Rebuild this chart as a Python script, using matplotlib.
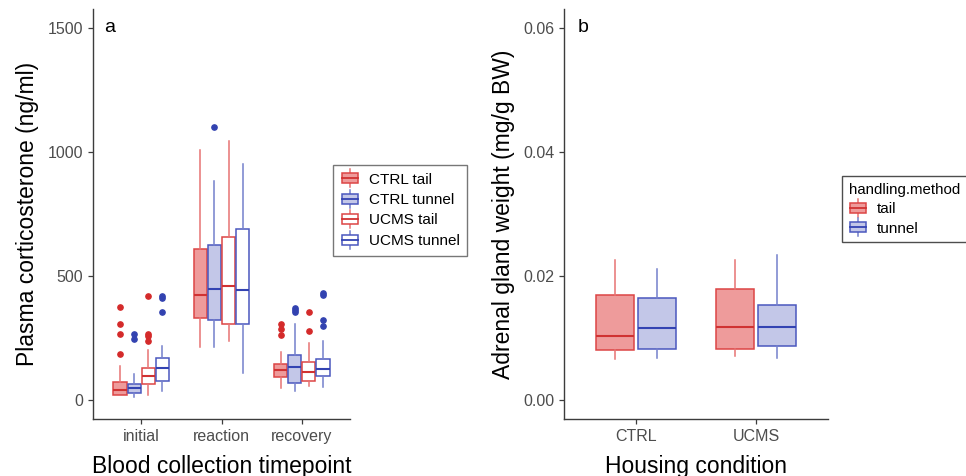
import matplotlib
matplotlib.use("Agg")
import matplotlib.pyplot as plt
from matplotlib.legend_handler import HandlerBase
from matplotlib.patches import Rectangle
from matplotlib.lines import Line2D

plt.rcParams["font.family"] = ["Liberation Sans", "DejaVu Sans"]

# ---- panel a: plasma corticosterone (ng/ml) ----
timepoints = ["initial", "reaction", "recovery"]
cort_groups = ["CTRL tail", "CTRL tunnel", "UCMS tail", "UCMS tunnel"]
# rows: group, columns: timepoint
cort_med = [[41, 426, 121], [50, 450, 133], [97, 461, 113], [130, 446, 126]]
cort_q1 = [[23, 332, 93], [31, 325, 70], [67, 309, 79], [79, 309, 97]]
cort_q3 = [[75, 609, 148], [66, 626, 181], [132, 658, 154], [172, 690, 168]]
cort_lo = [[20, 215, 51], [15, 215, 38], [21, 239, 58], [38, 112, 55]]
cort_hi = [[138, 1009, 195], [105, 882, 306], [202, 1043, 229], [217, 952, 237]]
cort_out = [
    [[376, 309, 267, 188], [], [309, 286, 265]],
    [[267, 247], [1100], [371, 363, 356]],
    [[421, 267, 259, 237], [], [354, 281]],
    [[418, 410, 355], [], [431, 423, 323, 301]],
]

# ---- panel b: adrenal gland weight (mg/g BW) ----
housing = ["CTRL", "UCMS"]
methods = ["tail", "tunnel"]
adr_med = [[0.0104, 0.0118], [0.0117, 0.0118]]
adr_q1 = [[0.0081, 0.0083], [0.0083, 0.0088]]
adr_q3 = [[0.0169, 0.0180], [0.0165, 0.0154]]
adr_lo = [[0.0067, 0.0071], [0.0069, 0.0069]]
adr_hi = [[0.0226, 0.0226], [0.0212, 0.0234]]

RED = dict(edge="#DC4545", med="#D03232", whisk="#E77373", fill="#EE9B9B", dot="#D42A2A")
BLUE = dict(edge="#4A57BE", med="#3343B2", whisk="#7480CC", fill="#C3C7E8", dot="#3242B0")
group_style = [(RED, True), (BLUE, True), (RED, False), (BLUE, False)]

TICK_C = "#4D4D4D"
AX_C = "#3C3C3C"


def stats_list(med, q1, q3, lo, hi, out):
    return [dict(med=m, q1=a, q3=b, whislo=l, whishi=h, fliers=f)
            for m, a, b, l, h, f in zip(med, q1, q3, lo, hi, out)]


def draw(ax, stats, positions, width, style, filled):
    bp = ax.bxp(stats, positions=positions, widths=width, patch_artist=True,
                showcaps=False, manage_ticks=False,
                flierprops=dict(marker="o", markersize=3.8,
                                markerfacecolor=style["dot"],
                                markeredgecolor=style["dot"]),
                medianprops=dict(color=style["med"], linewidth=1.5),
                whiskerprops=dict(color=style["whisk"], linewidth=1.1),
                boxprops=dict(edgecolor=style["edge"], linewidth=1.1,
                              facecolor=style["fill"] if filled else "white"))
    return bp


def style_axes(ax):
    for s in ("top", "right"):
        ax.spines[s].set_visible(False)
    for s in ("left", "bottom"):
        ax.spines[s].set_color(AX_C)
        ax.spines[s].set_linewidth(1.0)
    ax.tick_params(colors=AX_C, labelcolor=TICK_C, labelsize=11.5, length=3.5,
                   width=0.9)


class BoxKey:
    def __init__(self, style, filled):
        self.style = style
        self.filled = filled


class BoxKeyHandler(HandlerBase):
    def create_artists(self, legend, h, xd, yd, width, height, fontsize, trans):
        x0, y0 = -xd, -yd
        cx = x0 + width / 2
        s = h.style
        whisk = Line2D([cx, cx], [y0 - 0.3 * height, y0 + 1.3 * height],
                       color=s["whisk"], linewidth=1.1, transform=trans)
        box = Rectangle((x0 + 0.08 * width, y0 + 0.05 * height), 0.84 * width,
                        0.9 * height, facecolor=s["fill"] if h.filled else "white",
                        edgecolor=s["edge"], linewidth=1.1, transform=trans)
        med = Line2D([x0 + 0.08 * width, x0 + 0.92 * width],
                     [y0 + 0.5 * height] * 2, color=s["med"], linewidth=1.3,
                     transform=trans)
        return [whisk, box, med]


fig = plt.figure(figsize=(9.66, 4.76), dpi=100)
axA = fig.add_axes([93 / 966, 57 / 476, 257 / 966, 410 / 476])
axB = fig.add_axes([564 / 966, 57 / 476, 264 / 966, 410 / 476])

# panel a
offsets_a = [-0.2625, -0.0875, 0.0875, 0.2625]
for g, (style, filled) in enumerate(group_style):
    pos = [i + 1 + offsets_a[g] for i in range(len(timepoints))]
    st = stats_list(cort_med[g], cort_q1[g], cort_q3[g], cort_lo[g],
                    cort_hi[g], cort_out[g])
    draw(axA, st, pos, 0.165, style, filled)
axA.set_xlim(0.4, 3.6)
axA.set_ylim(-75, 1575)
axA.set_xticks([1, 2, 3], timepoints)
axA.set_yticks([0, 500, 1000, 1500])
style_axes(axA)
axA.set_xlabel("Blood collection timepoint", fontsize=16.5, labelpad=8)
axA.set_ylabel("Plasma corticosterone (ng/ml)", fontsize=16.5, labelpad=6)
axA.text(0.045, 0.975, "a", transform=axA.transAxes, fontsize=14,
         va="top", ha="left")

handles_a = [BoxKey(s, f) for s, f in group_style]
legA = fig.legend(handles_a, cort_groups, loc="upper left",
                  bbox_to_anchor=(333 / 966, 1 - 165 / 476),
                  handler_map={BoxKey: BoxKeyHandler()}, fontsize=11,
                  frameon=True, fancybox=False, edgecolor="#555555",
                  handlelength=1.25, handleheight=0.75, handletextpad=0.6,
                  labelspacing=0.42, borderpad=0.5, borderaxespad=0)
legA.get_frame().set_linewidth(1.0)

# panel b
offsets_b = [-0.175, 0.175]
styles_b = [RED, BLUE]
for m in range(len(methods)):
    pos = [i + 1 + offsets_b[m] for i in range(len(housing))]
    st = stats_list(adr_med[m], adr_q1[m], adr_q3[m], adr_lo[m], adr_hi[m],
                    [[] for _ in housing])
    draw(axB, st, pos, 0.32, styles_b[m], True)
axB.set_xlim(0.4, 2.6)
axB.set_ylim(-0.003, 0.063)
axB.set_xticks([1, 2], housing)
axB.set_yticks([0, 0.02, 0.04, 0.06], ["0.00", "0.02", "0.04", "0.06"])
style_axes(axB)
axB.set_xlabel("Housing condition", fontsize=16.5, labelpad=8)
axB.set_ylabel("Adrenal gland weight (mg/g BW)", fontsize=16.5, labelpad=6)
axB.text(0.05, 0.975, "b", transform=axB.transAxes, fontsize=14,
         va="top", ha="left")

handles_b = [BoxKey(RED, True), BoxKey(BLUE, True)]
legB = fig.legend(handles_b, methods, loc="upper left",
                  bbox_to_anchor=(842 / 966, 1 - 176 / 476),
                  handler_map={BoxKey: BoxKeyHandler()}, fontsize=11,
                  title="handling.method", title_fontsize=10.8,
                  alignment="left", frameon=True, fancybox=False,
                  edgecolor="#222222", handlelength=1.25, handleheight=0.75,
                  handletextpad=0.6, labelspacing=0.35, borderpad=0.45,
                  borderaxespad=0)
legB.get_frame().set_linewidth(1.0)

fig.savefig("out.png", dpi=100)
